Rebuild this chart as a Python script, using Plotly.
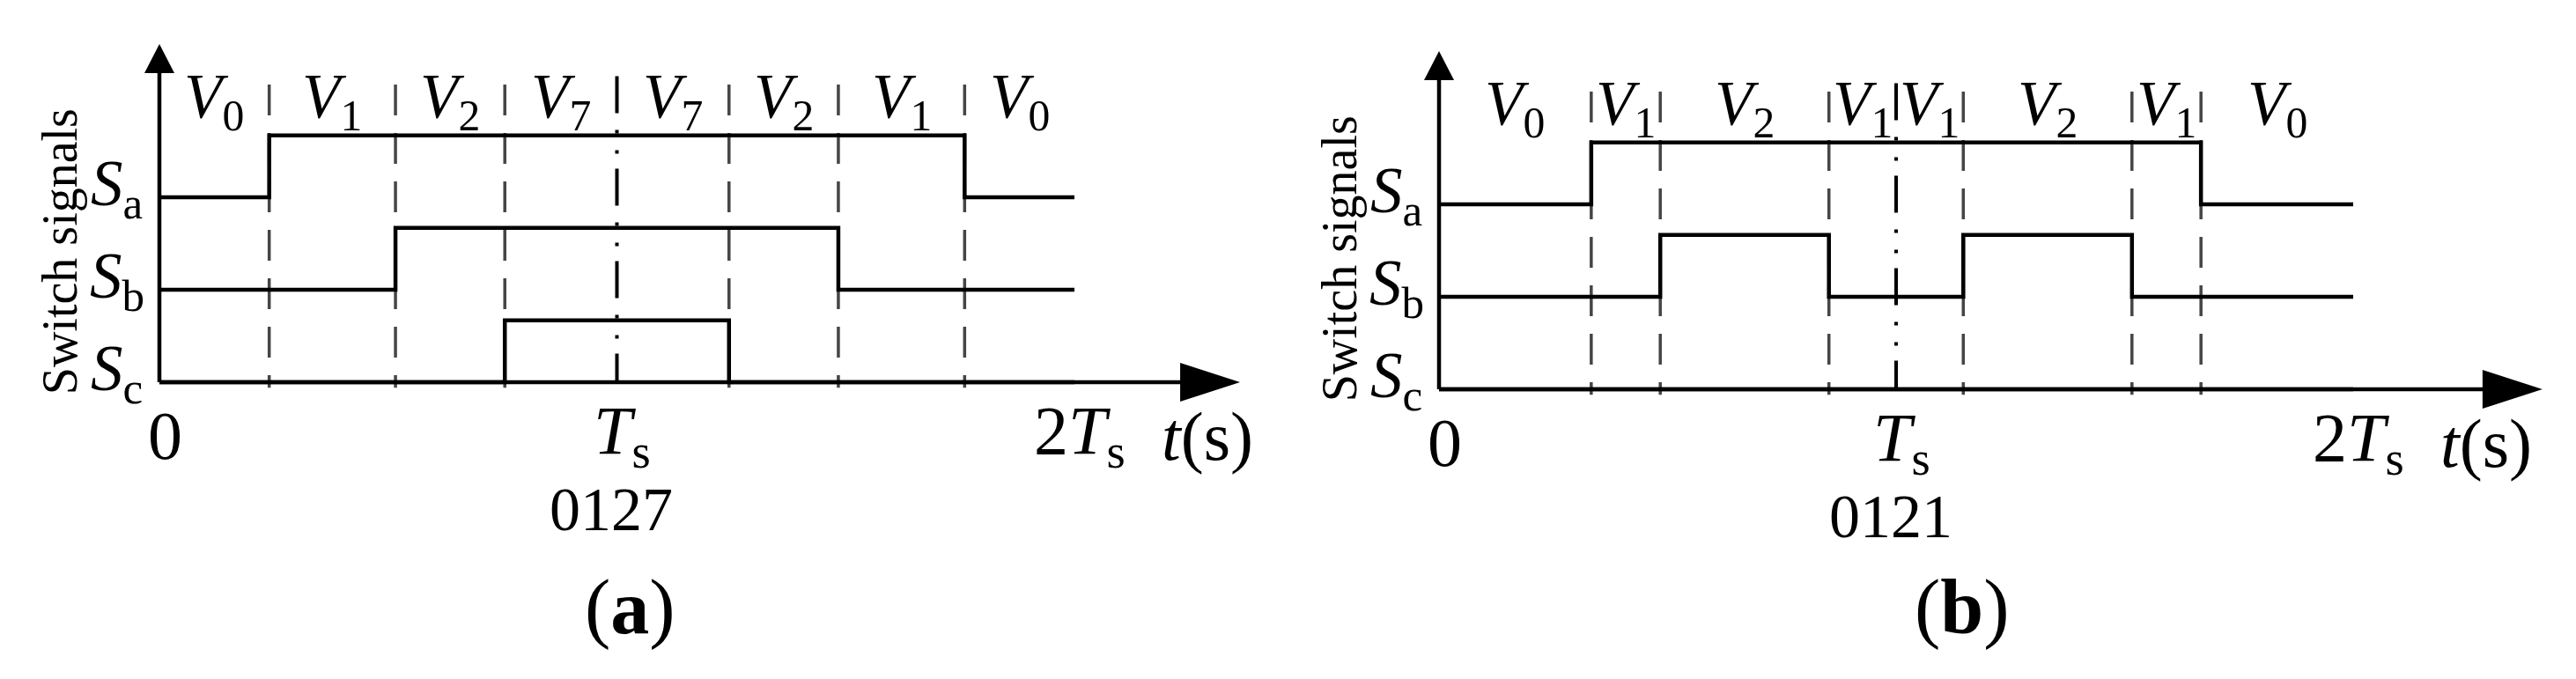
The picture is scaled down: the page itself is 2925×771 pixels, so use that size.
import plotly.graph_objects as go

# segment boundaries, in units of Ts
seg_a = [0, 0.24, 0.516, 0.755, 1.0, 1.245, 1.484, 1.76, 2.0]
vec_a = ["0", "1", "2", "7", "7", "2", "1", "0"]
sa_a = [0, 1, 1, 1, 1, 1, 1, 0]
sb_a = [0, 0, 1, 1, 1, 1, 0, 0]
sc_a = [0, 0, 0, 1, 1, 0, 0, 0]

seg_b = [0, 0.333, 0.484, 0.853, 1.0, 1.147, 1.516, 1.667, 2.0]
vec_b = ["0", "1", "2", "1", "1", "2", "1", "0"]
sa_b = [0, 1, 1, 1, 1, 1, 1, 0]
sb_b = [0, 0, 1, 0, 0, 1, 0, 0]
sc_b = [0, 0, 0, 0, 0, 0, 0, 0]

signal_names = ["a", "b", "c"]
signal_levels = [2, 1, 0]
tick_vals = [0, 1, 2]
tick_text = ["0", "<i>T</i><sub>s</sub>", "2<i>T</i><sub>s</sub>"]
sequences = ["0127", "0121"]
captions = ["a", "b"]

FONT = "Liberation Serif, Times New Roman, serif"
HIGH = 0.67
W, H = 2925, 771
UNIT = 105.0  # px per signal level

panels = [
    dict(seg=seg_a, vec=vec_a, sig=[sa_a, sb_a, sc_a], ox=181, oy=434, ts=519.5,
         xd=[0, 0.5], tip=2.362, cap_x=715),
    dict(seg=seg_b, vec=vec_b, sig=[sa_b, sb_b, sc_b], ox=1634, oy=442, ts=519.0,
         xd=[0.5, 1], tip=2.414, cap_x=2228),
]

fig = go.Figure()
shapes = []
annotations = []
layout = {}


def label(xr, yr, x, y, text, size, **kw):
    d = dict(xref=xr, yref=yr, x=x, y=y, text=text, showarrow=False,
             xanchor="center", yanchor="middle",
             font=dict(family=FONT, size=size, color="black"))
    d.update(kw)
    annotations.append(d)


for i, p in enumerate(panels):
    sfx = "" if i == 0 else str(i + 1)
    xr, yr = "x" + sfx, "y" + sfx
    x0px, x1px = p["xd"][0] * W, p["xd"][1] * W
    layout["xaxis" + sfx] = dict(domain=p["xd"], anchor=yr, visible=False,
                                 range=[(x0px - p["ox"]) / p["ts"], (x1px - p["ox"]) / p["ts"]])
    layout["yaxis" + sfx] = dict(domain=[0, 1], anchor=xr, visible=False,
                                 range=[-(H - p["oy"]) / UNIT, p["oy"] / UNIT])

    # grid lines at switching instants
    for t in p["seg"][1:-1]:
        if abs(t - 1.0) < 1e-9:
            shapes.append(dict(type="line", xref=xr, yref=yr, x0=t, x1=t, y0=3.31, y1=0,
                               layer="below",
                               line=dict(color="black", width=4,
                                         dash="42px,19px,4px,19px,4px,17px")))
        else:
            shapes.append(dict(type="line", xref=xr, yref=yr, x0=t, x1=t, y0=3.22, y1=-0.06,
                               layer="below",
                               line=dict(color="#454545", width=3.5, dash="35px,20px")))

    # switch signals
    for name, lvl, st in zip(signal_names, signal_levels, p["sig"]):
        ys = [lvl + HIGH * s for s in st] + [lvl + HIGH * st[-1]]
        fig.add_trace(go.Scatter(x=p["seg"], y=ys, mode="lines", line_shape="hv",
                                 line=dict(color="black", width=4.5),
                                 xaxis=xr, yaxis=yr, hoverinfo="skip"))
        label(xr, yr, -0.093, lvl + 0.1, "<i>S</i><sub>%s</sub>" % name, 73)

    # axes with arrows
    ah = 17 / p["ts"]
    tip_y = 384 / UNIT
    base_y = tip_y - 33 / UNIT
    shapes.append(dict(type="line", xref=xr, yref=yr, x0=0, x1=0, y0=0, y1=base_y + 0.02,
                       line=dict(color="black", width=4.5)))
    shapes.append(dict(type="path", xref=xr, yref=yr, fillcolor="black", line=dict(width=0),
                       path="M %f,%f L %f,%f L %f,%f Z" % (-ah, base_y, 0, tip_y, ah, base_y)))
    base_x = p["tip"] - 68 / p["ts"]
    av = 22 / UNIT
    shapes.append(dict(type="line", xref=xr, yref=yr, x0=0, x1=base_x + 0.01, y0=0, y1=0,
                       line=dict(color="black", width=4.5)))
    shapes.append(dict(type="path", xref=xr, yref=yr, fillcolor="black", line=dict(width=0),
                       path="M %f,%f L %f,%f L %f,%f Z" % (base_x, -av, p["tip"], 0, base_x, av)))

    # vector labels
    for k, v in enumerate(p["vec"]):
        xm = (p["seg"][k] + p["seg"][k + 1]) / 2
        label(xr, yr, xm, 3.04, "<i>V</i><sub>%s</sub>" % v, 71)

    # time ticks
    for tv, tt in zip(tick_vals, tick_text):
        dy = -0.58 if tv == 0 else -0.57
        label(xr, yr, tv + 0.012, dy, tt, 78)
    label(xr, yr, 2.29, -0.59, "<i>t</i>(s)", 78)

    label(xr, yr, 0.988, -1.38, sequences[i], 70)
    label(xr, yr, -0.217, 1.41, "Switch signals", 56, textangle=-90)
    label("paper", "paper", p["cap_x"] / W, 1 - 689 / H, "(<b>%s</b>)" % captions[i], 88)

fig.update_layout(width=W, height=H, margin=dict(l=0, r=0, t=0, b=0),
                  paper_bgcolor="white", plot_bgcolor="white", showlegend=False,
                  shapes=shapes, annotations=annotations, **layout)

fig.write_html("out.html", config={"displayModeBar": False},
               post_script="document.body.style.margin='0';")
